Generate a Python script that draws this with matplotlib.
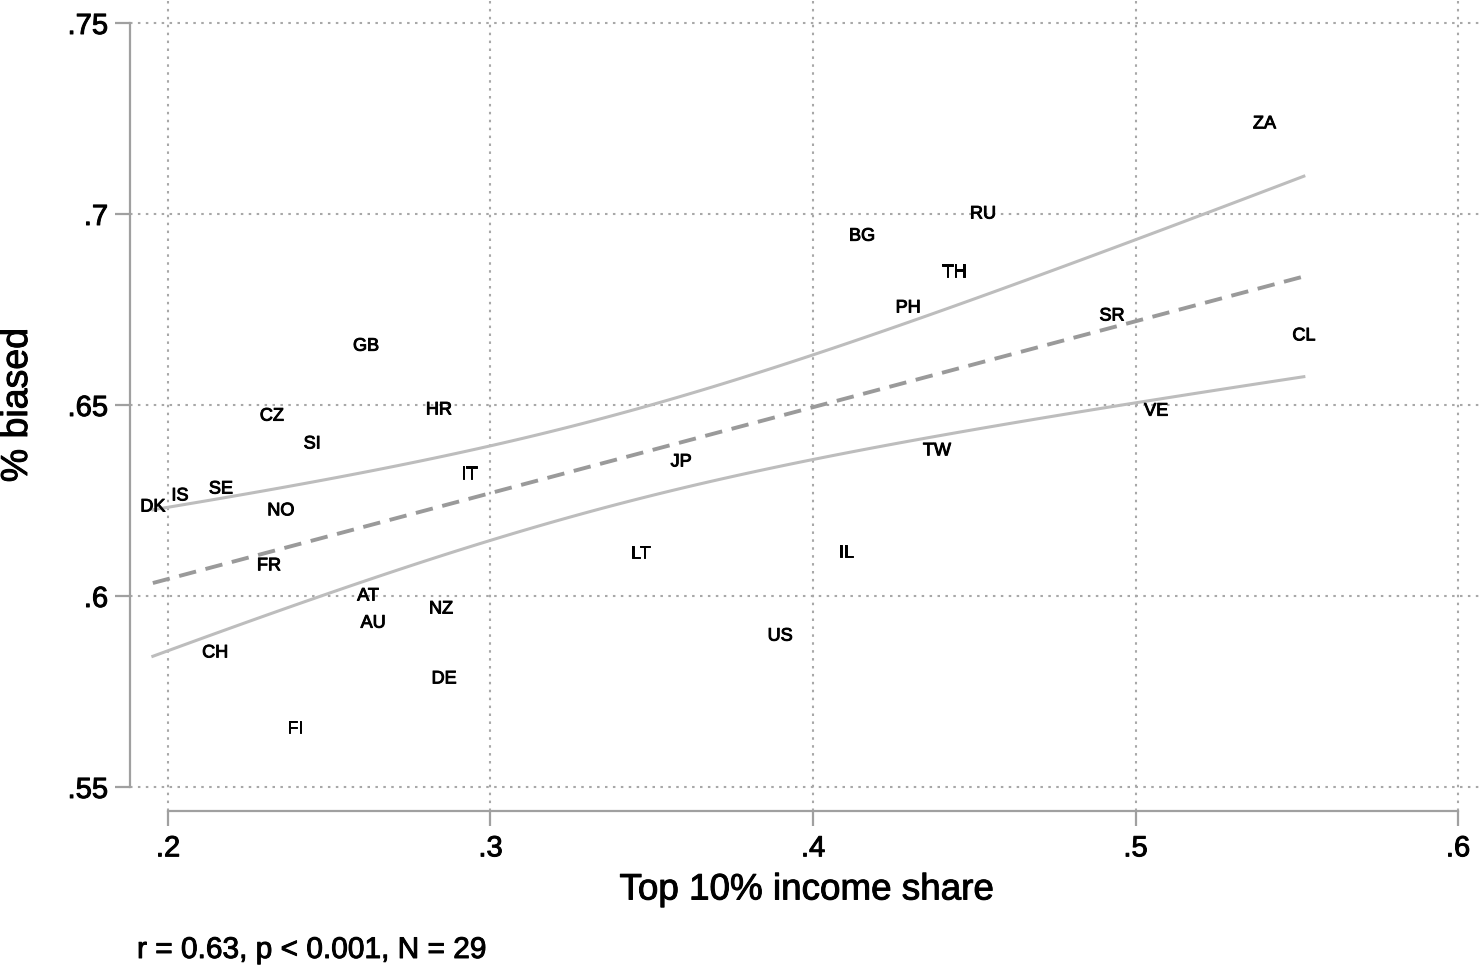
import numpy as np
import matplotlib
matplotlib.use("Agg")
import matplotlib.pyplot as plt
import matplotlib.patheffects as pe

plt.rcParams['font.family'] = ['Liberation Sans', 'DejaVu Sans']

# ----- Datos -----
paises = ["ZA", "RU", "BG", "TH", "PH", "SR", "CL", "GB", "CZ", "HR",
          "VE", "SI", "TW", "IT", "JP", "SE", "IS", "DK", "NO", "LT",
          "IL", "FR", "AT", "NZ", "AU", "US", "CH", "DE", "FI"]
top10 = [0.540, 0.4527, 0.4152, 0.4437, 0.4295, 0.4927, 0.5522, 0.2614, 0.2322, 0.2840,
         0.5064, 0.2447, 0.4384, 0.2933, 0.3591, 0.2164, 0.2037, 0.1953, 0.2350, 0.3464,
         0.4102, 0.2313, 0.2620, 0.2847, 0.2636, 0.3898, 0.2146, 0.2856, 0.2394]
sesgo = [0.7236, 0.7000, 0.6942, 0.6848, 0.6754, 0.6733, 0.6681, 0.6654, 0.6471, 0.6487,
         0.6484, 0.6398, 0.6380, 0.6319, 0.6351, 0.6280, 0.6262, 0.6233, 0.6223, 0.6110,
         0.6113, 0.6079, 0.6000, 0.5966, 0.5929, 0.5895, 0.5851, 0.5783, 0.5652]

xticks = [0.2, 0.3, 0.4, 0.5, 0.6]
xticklabels = [".2", ".3", ".4", ".5", ".6"]
yticks = [0.55, 0.6, 0.65, 0.7, 0.75]
yticklabels = [".55", ".6", ".65", ".7", ".75"]
nota = "r = 0.63, p < 0.001, N = 29"

# ----- Ajuste lineal + IC 95% -----
x = np.array(top10)
y = np.array(sesgo)
n = len(x)
b, a = np.polyfit(x, y, 1)
resid = y - (a + b * x)
s = np.sqrt(np.sum(resid**2) / (n - 2))
sxx = np.sum((x - x.mean())**2)
t_crit = 2.0518  # t(0.975, 27)
xs = np.linspace(x.min(), x.max(), 100)
ys = a + b * xs
se = s * np.sqrt(1 / n + (xs - x.mean())**2 / sxx)

# trazo fino para que el texto se vea tan grueso como en Stata
grueso = [pe.withStroke(linewidth=0.7, foreground='black')]

# ----- Grafico -----
fig = plt.figure(figsize=(14.79, 9.67), dpi=100)
ax = fig.add_axes([130 / 1479, 1 - 811 / 967, 1 - 130 / 1479, 811 / 967])

gris = '#a0a0a0'
ax.set_xlim(0.2 + (130 - 168) / 3225, 0.2 + (1479 - 168) / 3225)
ax.set_ylim(0.75 - (811 - 23) / 3820, 0.75 + 23 / 3820)

for xv in xticks:
    ax.axvline(xv, color='#a8a8a8', lw=1.5, ls=(0, (1.2, 2.6)), zorder=0)
for yv in yticks:
    ax.axhline(yv, color='#a8a8a8', lw=1.5, ls=(0, (1.2, 2.6)), zorder=0)

ax.plot(xs, ys + t_crit * se, color='#bdbdbd', lw=2.2, zorder=1)
ax.plot(xs, ys - t_crit * se, color='#bdbdbd', lw=2.2, zorder=1)
ax.plot(xs, ys, color='#9a9a9a', lw=2.8, ls=(0, (4.5, 2.5)), zorder=2)

for p, xv, yv in zip(paises, top10, sesgo):
    ax.text(xv, yv, p, ha='center', va='center', fontsize=13, zorder=3,
            path_effects=grueso)

for side in ['top', 'right']:
    ax.spines[side].set_visible(False)
ax.spines['left'].set_bounds(0.55, 0.75)
ax.spines['bottom'].set_bounds(0.2, 0.6)
for side in ['left', 'bottom']:
    ax.spines[side].set_color(gris)
    ax.spines[side].set_linewidth(1.6)

ax.set_xticks(xticks)
ax.set_xticklabels(xticklabels)
ax.set_yticks(yticks)
ax.set_yticklabels(yticklabels)
ax.tick_params(axis='both', length=10.8, width=1.6, color=gris, labelsize=21)
ax.tick_params(axis='x', pad=6)
ax.tick_params(axis='y', pad=5)
for lab in ax.get_xticklabels() + ax.get_yticklabels():
    lab.set_path_effects(grueso)

fig.text(806 / 1479, 1 - 890 / 967, "Top 10% income share", ha='center', va='center',
         fontsize=26.5, path_effects=grueso)
fig.text(17 / 1479, 1 - 405 / 967, "% biased", ha='center', va='center', rotation=90,
         fontsize=27, path_effects=grueso)
fig.text(137 / 1479, 1 - 950 / 967, nota, ha='left', va='center', fontsize=21.5,
         path_effects=grueso)

fig.savefig("out.png", dpi=100)
